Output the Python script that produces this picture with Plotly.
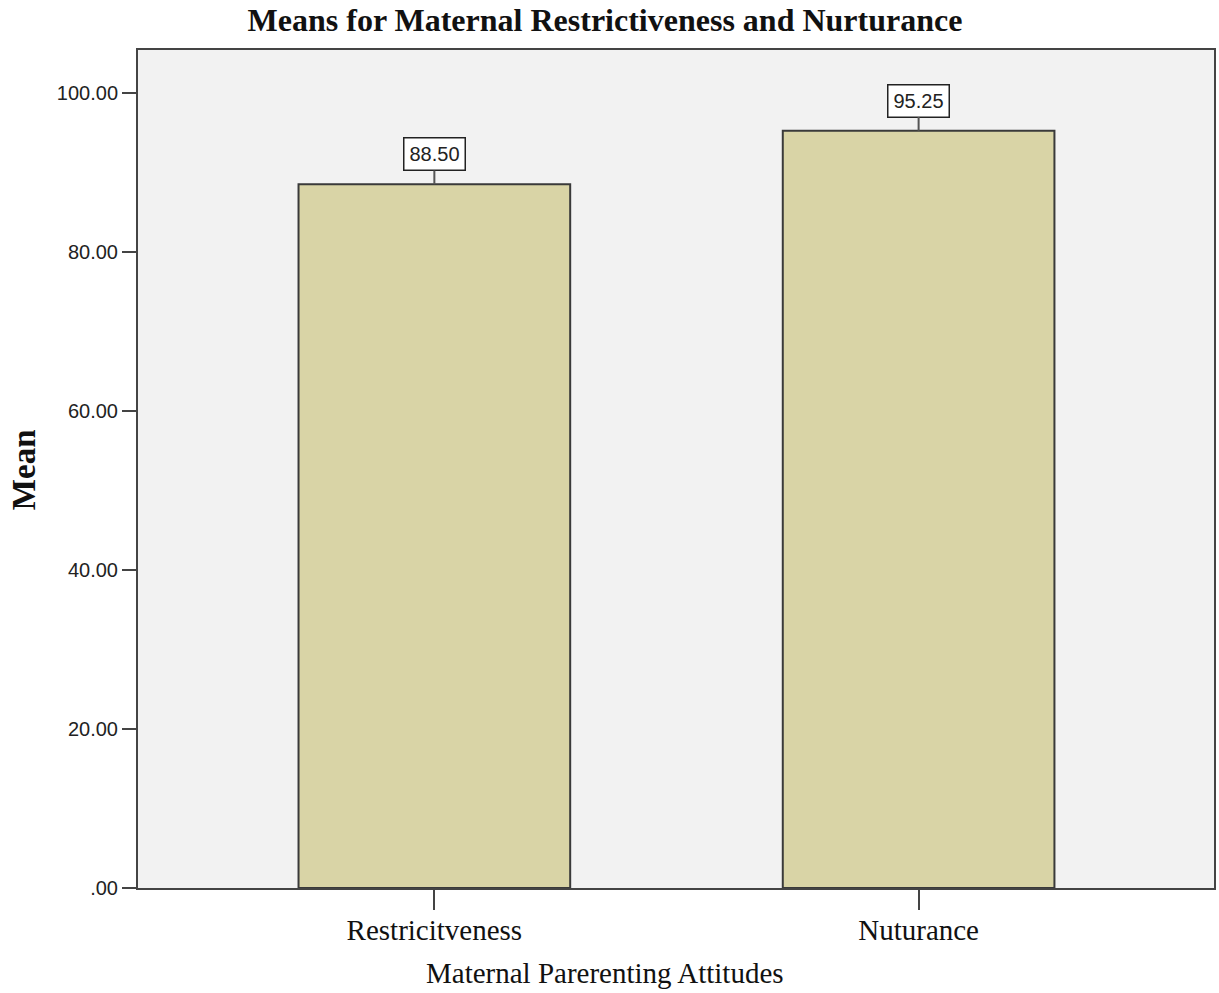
import plotly.graph_objects as go

categories = ["Restricitveness", "Nuturance"]
means = [88.50, 95.25]
y_tick_vals = [0, 20, 40, 60, 80, 100]
y_tick_text = [".00", "20.00", "40.00", "60.00", "80.00", "100.00"]

serif = "Liberation Serif, Times New Roman, serif"
sans = "Liberation Sans, Arial, sans-serif"

fig = go.Figure()
fig.add_trace(go.Bar(
    x=categories, y=means, width=0.561,
    marker=dict(color="#D9D4A6", line=dict(color="#3a3a3a", width=2)),
    hoverinfo="skip",
))

for c, v in zip(categories, means):
    fig.add_annotation(
        x=c, y=v, xref="x", yref="y", text=f"{v:.2f}",
        showarrow=True, arrowhead=0, arrowwidth=2, arrowcolor="#555",
        ax=0, ay=-30, standoff=0,
        bgcolor="white", bordercolor="#222", borderwidth=1.5, borderpad=2,
        width=56, height=27,
        font=dict(family=sans, size=20, color="#222"),
    )

# y axis title
fig.add_annotation(
    x=-0.1058, y=0.4988, xref="paper", yref="paper", xanchor="center", yanchor="middle",
    text="<b>Mean</b>", textangle=-90, showarrow=False,
    font=dict(family=serif, size=33, color="#111"),
)
# x axis title
fig.add_annotation(
    x=0.434, y=-0.1014, xref="paper", yref="paper", xanchor="center", yanchor="middle",
    text="Maternal Parerenting Attitudes", showarrow=False,
    font=dict(family=serif, size=29, color="#111"),
)

fig.update_layout(
    width=1219, height=993,
    margin=dict(l=138, r=3, t=50, b=105),
    paper_bgcolor="white", plot_bgcolor="#F2F2F2",
    showlegend=False,
    title=dict(text="<b>Means for Maternal Restrictiveness and Nurturance</b>",
               x=0.4963, xanchor="center", y=0.9799, yanchor="middle",
               font=dict(family=serif, size=32, color="#111")),
    xaxis=dict(
        type="category", range=[-0.612, 1.610],
        showline=True, linecolor="#444", linewidth=2, mirror=True,
        ticks="outside", ticklen=20, tickwidth=2, tickcolor="#444",
        ticklabelstandoff=-5,
        tickfont=dict(family=serif, size=29, color="#111"),
        showgrid=False, zeroline=False,
    ),
    yaxis=dict(
        range=[0, 105.4],
        tickvals=y_tick_vals, ticktext=y_tick_text,
        showline=True, linecolor="#444", linewidth=2, mirror=True,
        ticks="outside", ticklen=14, tickwidth=2, tickcolor="#444",
        tickfont=dict(family=sans, size=20, color="#222"),
        showgrid=False, zeroline=False,
    ),
)

fig.write_html("out.html")
